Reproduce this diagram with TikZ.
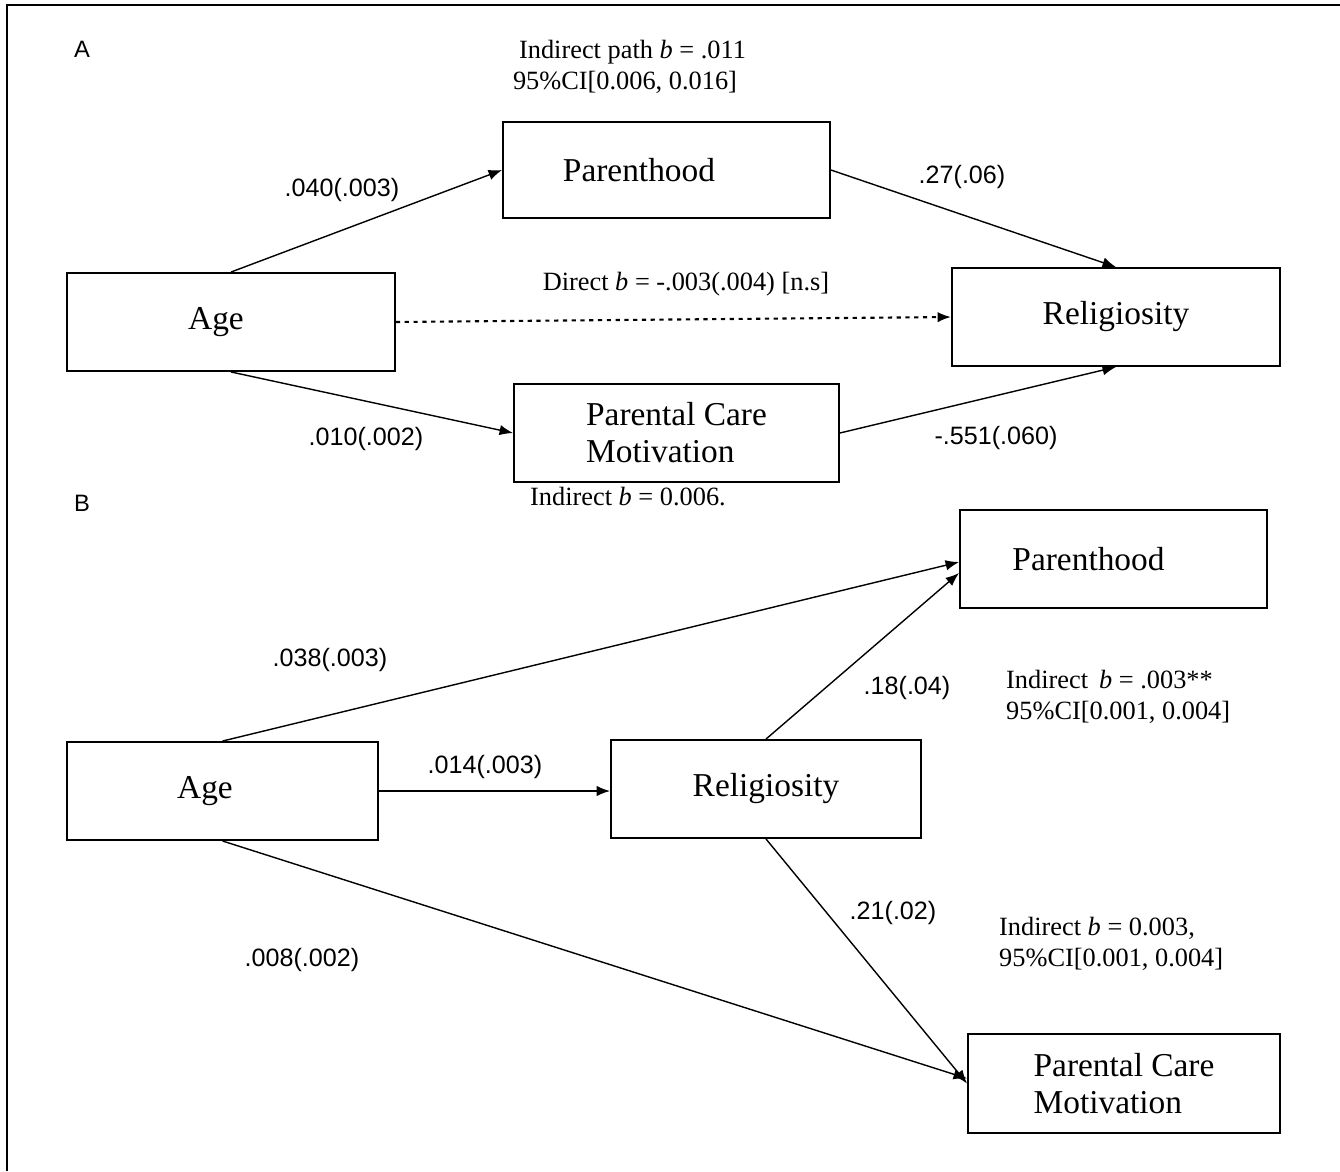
\documentclass[tikz,border=0pt]{standalone}
\usepackage{fontspec}
\setmainfont{Liberation Serif}
\setsansfont{Liberation Sans}
\usepackage{tikz}
\usetikzlibrary{arrows.meta,calc}

\begin{document}
\begin{tikzpicture}[x=0.02cm, y=-0.02cm, >={Latex[length=2.7mm,width=2.1mm]},
  box/.style={draw, line width=1.1pt, minimum width=6.5cm, minimum height=1.96cm, font=\fontsize{19}{21}\selectfont, align=left},
  lbl/.style={font=\sffamily\fontsize{14.3}{17}\selectfont},
  note/.style={font=\fontsize{15}{17.6}\selectfont, align=left},
  path/.style={->, line width=0.8pt}]
\useasboundingbox (0,0) rectangle (1340,1171);
% outer frame, only top and left edges show
\draw[line width=0.9pt] (7,1171) -- (7,5) -- (1340,5);

% panel A
\node[font=\sffamily\fontsize{13.5}{15}\selectfont] (A) at (82,49) {A};
\node[box, minimum width=6.54cm, minimum height=1.92cm] (pA) at (666.5,170) {Parenthood\hspace*{1.1cm}};
\node[box, minimum width=6.56cm] (aA) at (231,322) {Age\hspace*{0.6cm}};
\node[box, minimum width=6.56cm] (rA) at (1116,317) {Religiosity};
\node[box] (cA) at (676.5,433) {Parental Care\\Motivation\hspace*{0.3cm}};

\node[note, align=center] (iA) at (625,67) {\hspace*{0.3cm}Indirect path \textit{b} = .011\\95\%CI[0.006, 0.016]};
\node[note] (dA) at (686,284) {Direct \textit{b} = -.003(.004) [n.s]};
\node[note] (jA) at (628,497) {Indirect \textit{b} = 0.006.};

\draw[path] (aA.north) -- (pA.west);
\draw[path] (pA.east) -- (rA.north);
\draw[path, dash pattern=on 2.4pt off 2.6pt, line width=1.2pt] (aA.east) -- (rA.west);
\draw[path] (aA.south) -- (cA.west);
\draw[path] (cA.east) -- (rA.south);
\node[lbl] at (342,190) {.040(.003)};
\node[lbl] at (962,177) {.27(.06)};
\node[lbl] at (366,439) {.010(.002)};
\node[lbl] at (996,438) {-.551(.060)};

% panel B
\node[font=\sffamily\fontsize{13.5}{15}\selectfont] (B) at (82,503) {B};
\node[box, minimum width=6.14cm] (pB) at (1113.5,559) {Parenthood\hspace*{1cm}};
\node[box, minimum width=6.22cm] (aB) at (222.5,791) {Age\hspace*{0.7cm}};
\node[box, minimum width=6.2cm] (rB) at (766,789) {Religiosity};
\node[box, minimum width=6.24cm, minimum height=1.98cm] (cB) at (1124,1083.5) {Parental Care\\Motivation\hspace*{0.6cm}};

\node[note, anchor=west] (iB) at (1000,697) {Indirect\, \textit{b} = .003**\\95\%CI[0.001, 0.004]};
\node[note, anchor=west] (jB) at (993,944) {Indirect \textit{b} = 0.003,\\95\%CI[0.001, 0.004]};

\draw[path] (aB.north) -- ([yshift=-0.06cm]pB.west);
\draw[path] (aB.east) -- (rB.west |- aB.east);
\draw[path] (rB.north) -- ([yshift=-0.28cm]pB.west);
\draw[path] (aB.south) -- ([yshift=0.1cm]cB.west);
\draw[path] (rB.south) -- (cB.west);
\node[lbl] at (330,660) {.038(.003)};
\node[lbl] at (485,767) {.014(.003)};
\node[lbl] at (907,688) {.18(.04)};
\node[lbl] at (893,913) {.21(.02)};
\node[lbl] at (302,960) {.008(.002)};
\end{tikzpicture}
\end{document}
